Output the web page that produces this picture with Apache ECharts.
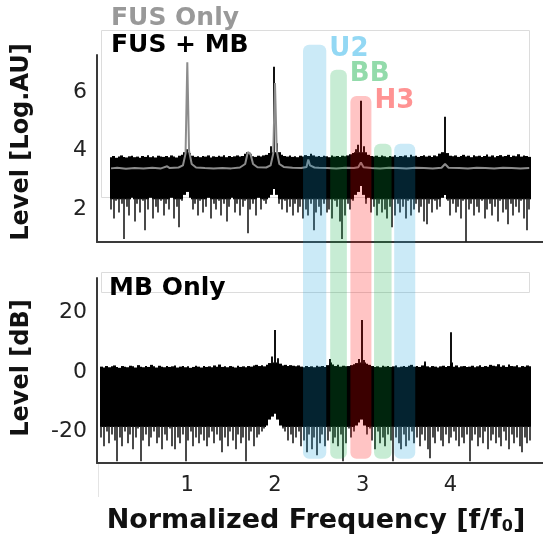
<!DOCTYPE html>
<html><head><meta charset="utf-8">
<script src="https://cdn.jsdelivr.net/npm/echarts@6/dist/echarts.min.js"></script>
<style>html,body{margin:0;padding:0;background:#fff}#c{width:543px;height:544px}</style>
</head><body><div id="c"></div>
<script>
// ---------- data ----------
const xTicks = [1, 2, 3, 4];
const topYTicks = [2, 4, 6];
const botYTicks = [-20, 0, 20];

// top panel (FUS + MB), log AU; samples start at f=0.13, step 0.03
const topStart = 0.13, topStep = 0.03;
const topHigh = [
3.78,3.82,3.76,3.80,3.84,3.79,3.77,3.81,3.83,3.78,
3.80,3.76,3.82,3.79,3.85,3.78,3.81,3.77,3.83,3.80,
3.79,3.82,3.78,3.84,3.80,3.77,3.83,3.86,3.95,4.05,
3.92,3.83,3.79,3.81,3.78,3.82,3.80,3.84,3.77,3.81,
3.79,3.83,3.80,3.85,3.78,3.82,3.79,3.81,3.84,3.80,
3.82,3.90,3.95,3.88,3.81,3.79,3.83,3.80,3.84,3.86,
3.92,4.15,6.85,4.25,3.95,3.86,3.82,3.80,3.84,3.79,
3.81,3.78,3.83,3.80,3.85,3.82,3.90,3.84,3.80,3.82,
3.79,3.83,3.81,3.78,3.84,3.80,3.82,3.79,3.83,3.81,
3.84,3.88,3.92,4.05,4.20,5.70,4.15,3.95,3.86,3.82,
3.80,3.83,3.79,3.84,3.81,3.78,3.82,3.80,3.85,3.79,
3.82,3.80,3.84,3.78,3.86,3.81,3.83,3.79,3.82,3.85,
3.80,3.83,3.79,3.84,3.81,3.90,3.95,5.15,3.92,3.83,
3.81,3.84,3.79,3.82,3.86,3.80,3.83,3.78,3.85,3.81,
3.83,3.79,3.82,3.87,3.80,3.84,3.78,3.82,3.85,3.80,
3.82,3.86,3.79,3.83,3.81,3.88,3.80,3.84,3.82,3.79];
const topLow = [
2.0,1.7,2.3,1.9,2.2,1.0,2.1,1.8,2.4,1.6,
2.2,1.9,2.3,1.3,2.0,2.4,1.7,2.1,1.9,2.3,
1.8,2.2,2.0,2.4,1.7,2.1,1.4,2.3,2.5,2.6,
2.4,2.0,2.2,1.8,2.3,1.9,2.1,2.4,1.7,2.2,
2.0,2.3,1.8,2.2,1.6,2.1,2.4,1.9,2.2,1.8,
2.1,2.3,1.2,2.0,2.2,1.8,2.4,2.0,2.3,2.2,
2.4,2.5,2.7,2.5,2.2,2.0,2.3,1.9,2.1,1.8,
2.2,1.9,2.1,1.7,2.0,1.8,2.2,1.3,1.9,2.1,
1.8,2.2,1.9,2.0,1.7,2.3,2.1,1.6,1.0,1.8,
2.2,2.0,2.3,2.5,2.6,2.8,2.5,2.2,2.4,1.9,
2.1,1.8,2.2,1.9,2.0,1.7,2.1,1.4,1.8,2.2,
1.9,2.1,1.7,2.3,1.8,2.0,2.2,1.9,2.1,1.6,
1.5,2.2,1.9,2.3,2.0,2.1,2.4,2.5,2.3,1.8,
2.2,1.9,2.1,1.7,2.3,0.9,2.0,2.2,1.8,2.1,
1.9,2.3,1.7,2.0,2.2,1.8,2.1,1.6,2.3,1.9,
2.0,1.5,2.2,1.8,2.1,1.9,2.3,1.7,1.3,2.0];
// FUS only (gray) : [f, level]
const fusOnly = [
[0.13,3.40],[0.2,3.42],[0.3,3.39],[0.4,3.41],[0.5,3.40],[0.6,3.42],[0.7,3.40],[0.77,3.47],[0.8,3.41],[0.9,3.43],
[0.95,3.50],[0.98,3.90],[1.0,7.0],[1.02,4.0],[1.05,3.55],[1.1,3.43],[1.2,3.41],[1.3,3.40],[1.4,3.41],[1.5,3.40],
[1.6,3.43],[1.66,3.55],[1.69,3.95],[1.72,3.90],[1.75,3.55],[1.8,3.44],[1.9,3.43],[1.95,3.50],[1.98,3.90],[2.0,6.3],
[2.02,4.0],[2.05,3.55],[2.1,3.45],[2.2,3.42],[2.3,3.41],[2.36,3.45],[2.38,3.70],[2.40,3.50],[2.45,3.43],[2.5,3.42],
[2.6,3.41],[2.7,3.40],[2.8,3.42],[2.9,3.41],[2.95,3.44],[2.98,3.60],[3.01,3.44],[3.1,3.41],[3.2,3.40],[3.3,3.42],
[3.4,3.41],[3.5,3.40],[3.6,3.42],[3.7,3.41],[3.8,3.40],[3.9,3.42],[3.94,3.55],[3.98,3.42],[4.1,3.41],[4.2,3.40],
[4.3,3.42],[4.4,3.41],[4.5,3.40],[4.6,3.42],[4.7,3.41],[4.8,3.40],[4.9,3.41]];

// bottom panel (MB only), dB; samples start at f=0.02, step 0.03
const botStart = 0.02, botStep = 0.03;
const botHigh = [
1.8,1.5,2.0,1.6,1.9,2.2,1.7,1.4,2.0,1.8,
1.6,2.1,1.9,1.5,2.3,1.8,1.6,2.0,1.7,2.4,
1.9,1.5,2.1,1.8,1.6,2.0,1.7,1.9,2.2,1.5,
1.8,2.0,1.6,1.9,1.4,1.7,2.1,1.8,1.5,2.0,
1.7,1.9,1.6,2.2,1.8,2.5,1.7,1.9,1.6,2.0,
1.8,1.5,2.1,1.7,1.9,1.6,2.0,1.8,2.2,2.4,
2.0,2.3,1.9,2.4,3.0,5.2,14.1,4.6,2.8,2.2,
2.4,2.0,2.3,2.1,1.9,2.2,1.8,1.6,2.0,1.7,
1.9,1.6,2.1,1.8,2.0,1.7,2.3,4.4,2.5,2.0,
2.4,1.8,2.1,1.9,2.0,2.3,2.6,3.0,4.4,17.5,
4.0,2.8,2.4,2.0,1.7,1.9,1.6,2.1,1.8,2.0,
1.7,1.9,2.2,1.6,1.8,2.0,1.7,2.1,2.4,1.8,
2.0,1.7,2.2,3.5,1.9,1.6,2.0,1.8,1.5,1.9,
2.1,1.7,2.0,13.4,1.8,2.2,1.6,1.9,2.0,1.7,
1.8,2.1,1.6,1.9,2.3,1.7,2.0,1.8,2.4,2.1,
1.9,2.6,1.8,2.2,1.7,2.5,2.0,1.9,2.3,1.6,
2.0,1.8,2.2,1.9];
const botLow = [
-22,-25,-20,-24,-21,-23,-30,-22,-25,-20,
-24,-21,-26,-22,-19,-30,-23,-21,-25,-22,
-20,-24,-22,-26,-21,-23,-19,-25,-26,-22,
-24,-21,-30,-23,-20,-25,-22,-24,-21,-23,
-25,-22,-20,-24,-21,-23,-27,-22,-25,-20,
-23,-26,-21,-24,-22,-30,-23,-20,-25,-22,
-21,-20,-19,-18,-16,-15,-14,-16,-18,-19,
-20,-23,-21,-24,-22,-20,-25,-23,-27,-21,
-26,-22,-28,-24,-21,-25,-23,-20,-24,-22,
-25,-21,-30,-24,-19,-22,-20,-18,-17,-16,
-18,-21,-19,-23,-26,-20,-24,-22,-25,-21,
-23,-30,-22,-24,-26,-21,-25,-23,-20,-24,
-22,-25,-21,-23,-26,-29,-22,-24,-20,-23,
-25,-21,-24,-22,-20,-23,-25,-22,-24,-21,
-30,-23,-21,-25,-22,-24,-20,-26,-23,-21,
-24,-22,-25,-20,-23,-26,-21,-24,-22,-25,
-27,-22,-24,-23];
// levels outside of which the noise is drawn as thin hairlines
const topSolidFloor = 2.35, topSolidCeil = 3.95;
const botSolidFloor = -18.5, botSolidCeil = 3.2;

// highlighted bands
const bandNames = ['U2', 'BB', 'H3', 'BB', 'U2'];
const bandFrom  = [2.32, 2.63, 2.86, 3.13, 3.36];
const bandTo    = [2.585, 2.82, 3.10, 3.33, 3.60];
const bandTop   = [7.6, 6.75, 5.86, 4.24, 4.24];
const bandBottom = -29.2;
const bandLabelShown = [true, true, true, false, false];
const bandFill = { U2: 'rgba(20,160,220,0.22)', BB: 'rgba(0,170,60,0.22)', H3: 'rgba(255,0,0,0.23)' };
const bandText = { U2: '#93d8f4', BB: '#93dbab', H3: '#ff9393' };

// ---------- chart ----------
const topData = topLow.map((lo, i) => [+(topStart + i * topStep).toFixed(3), lo, topHigh[i]]);
const botData = botLow.map((lo, i) => [+(botStart + i * botStep).toFixed(3), lo, botHigh[i]]);

const FONT = '"DejaVu Sans", Verdana, sans-serif';
const chart = echarts.init(document.getElementById('c'), null, { renderer: 'canvas' });

function noiseRenderer(step, floor, ceil) {
  return function (params, api) {
    const x = api.value(0), lo = api.value(1), hi = api.value(2);
    const solidHi = Math.min(hi, ceil);
    const solidLo = Math.max(lo, floor);
    const pHi = api.coord([x, hi]);
    const pTop = api.coord([x, solidHi]);
    const pMid = api.coord([x, solidLo]);
    const pLo = api.coord([x, lo]);
    const w = api.size([step, 0])[0];
    const x0 = Math.round(pHi[0] - w / 2);
    const x1 = Math.round(pHi[0] + w / 2);
    const cx = Math.round(pHi[0]);
    const children = [{
      type: 'rect',
      shape: { x: x0, y: pTop[1], width: x1 - x0, height: pMid[1] - pTop[1] },
      style: { fill: '#000' }
    }];
    if (hi > ceil) {
      children.push({ type: 'rect', shape: { x: cx - 1, y: pHi[1], width: 2, height: pTop[1] - pHi[1] + 1 },
        style: { fill: '#111' } });
    }
    if (lo < floor) {
      children.push({ type: 'rect', shape: { x: cx - 0.8, y: pMid[1] - 1, width: 1.6, height: pLo[1] - pMid[1] + 1 },
        style: { fill: '#1c1c1c' } });
    }
    return { type: 'group', children: children };
  };
}

const axisLineStyle = { show: true, onZero: false, lineStyle: { color: '#3a3a3a', width: 2 } };
const xCommon = {
  type: 'value', min: -0.03, max: 5.0,
  axisLine: axisLineStyle, axisTick: { show: false }, splitLine: { show: false }
};

chart.setOption({
  animation: false,
  backgroundColor: '#fff',
  grid: [
    { left: 97, right: 5, top: 55, height: 187 },
    { left: 97, right: 5, top: 278, height: 185 }
  ],
  xAxis: [
    Object.assign({ gridIndex: 0, axisLabel: { show: false } }, xCommon),
    Object.assign({ gridIndex: 1, axisLabel: { customValues: xTicks, fontSize: 21, color: '#222', fontFamily: FONT, margin: 12 } }, xCommon)
  ],
  yAxis: [
    { gridIndex: 0, type: 'value', min: 0.9, max: 7.25,
      axisLine: axisLineStyle, axisTick: { show: false }, splitLine: { show: false },
      axisLabel: { customValues: topYTicks, fontSize: 22, color: '#222', fontFamily: FONT, margin: 10 } },
    { gridIndex: 1, type: 'value', min: -30.6, max: 31.6,
      axisLine: axisLineStyle, axisTick: { show: false }, splitLine: { show: false },
      axisLabel: { customValues: botYTicks, fontSize: 22, color: '#222', fontFamily: FONT, margin: 10 } }
  ],
  series: [
    { type: 'custom', name: 'FUS + MB', xAxisIndex: 0, yAxisIndex: 0, data: topData,
      renderItem: noiseRenderer(topStep, topSolidFloor, topSolidCeil), encode: { x: 0, y: [1, 2] }, clip: true },
    { type: 'line', name: 'FUS Only', xAxisIndex: 0, yAxisIndex: 0, data: fusOnly,
      showSymbol: false, lineStyle: { color: '#8c8c8c', width: 2 } },
    { type: 'custom', name: 'MB Only', xAxisIndex: 1, yAxisIndex: 1, data: botData,
      renderItem: noiseRenderer(botStep, botSolidFloor, botSolidCeil), encode: { x: 0, y: [1, 2] }, clip: true }
  ]
});

// decorations + bands (positioned through the axes' scales)
const g = [];
g.push({ type: 'rect', z: 0, shape: { x: 101.5, y: 30.5, width: 428, height: 167 }, style: { fill: 'none', stroke: '#dcdcdc', lineWidth: 1 } });
g.push({ type: 'rect', z: 0, shape: { x: 101.5, y: 272.5, width: 428, height: 20 }, style: { fill: 'none', stroke: '#dcdcdc', lineWidth: 1 } });
g.push({ type: 'line', z: 0, shape: { x1: 98.5, y1: 464, x2: 98.5, y2: 497 }, style: { stroke: '#e4e4e4', lineWidth: 1 } });
g.push({ type: 'line', z: 0, shape: { x1: 530, y1: 242, x2: 543, y2: 242 }, style: { stroke: '#3a3a3a', lineWidth: 2 } });
g.push({ type: 'line', z: 0, shape: { x1: 530, y1: 463, x2: 543, y2: 463 }, style: { stroke: '#3a3a3a', lineWidth: 2 } });

for (let k = 0; k < bandNames.length; k++) {
  const pTop = chart.convertToPixel({ gridIndex: 0 }, [bandFrom[k], bandTop[k]]);
  const pTopR = chart.convertToPixel({ gridIndex: 0 }, [bandTo[k], bandTop[k]]);
  const pBot = chart.convertToPixel({ gridIndex: 1 }, [bandFrom[k], bandBottom]);
  const nm = bandNames[k];
  g.push({ type: 'rect', z: 50,
    shape: { x: pTop[0], y: pTop[1], width: pTopR[0] - pTop[0], height: pBot[1] - pTop[1], r: 6 },
    style: { fill: bandFill[nm] } });
  if (bandLabelShown[k]) {
    g.push({ type: 'text', z: 51, x: pTopR[0] + 3, y: pTop[1] + 5,
      style: { text: nm, fill: bandText[nm], font: 'bold 26px ' + FONT, textAlign: 'left', textVerticalAlign: 'middle' } });
  }
}

g.push({ type: 'text', z: 60, x: 111, y: 18, style: { text: 'FUS Only', fill: '#999', font: 'bold 25px ' + FONT, textAlign: 'left', textVerticalAlign: 'middle' } });
g.push({ type: 'text', z: 60, x: 111, y: 45, style: { text: 'FUS + MB', fill: '#000', font: 'bold 25px ' + FONT, textAlign: 'left', textVerticalAlign: 'middle' } });
g.push({ type: 'text', z: 60, x: 109, y: 288, style: { text: 'MB Only', fill: '#000', font: 'bold 25px ' + FONT, textAlign: 'left', textVerticalAlign: 'middle' } });
g.push({ type: 'text', z: 60, x: 22, y: 142, rotation: Math.PI / 2, style: { text: 'Level [Log.AU]', fill: '#111', font: 'bold 24px ' + FONT, textAlign: 'center', textVerticalAlign: 'middle' } });
g.push({ type: 'text', z: 60, x: 22, y: 368, rotation: Math.PI / 2, style: { text: 'Level [dB]', fill: '#111', font: 'bold 24px ' + FONT, textAlign: 'center', textVerticalAlign: 'middle' } });
g.push({ type: 'text', z: 60, x: 316, y: 521, style: {
  text: '{a|Normalized Frequency [f/f}{s|0}{a|]}', textAlign: 'center', textVerticalAlign: 'middle',
  rich: { a: { font: 'bold 27px ' + FONT, fill: '#111', lineHeight: 28 },
          s: { font: 'bold 16px ' + FONT, fill: '#111', verticalAlign: 'bottom', lineHeight: 14 } } } });

chart.setOption({ graphic: g });
</script></body></html>
